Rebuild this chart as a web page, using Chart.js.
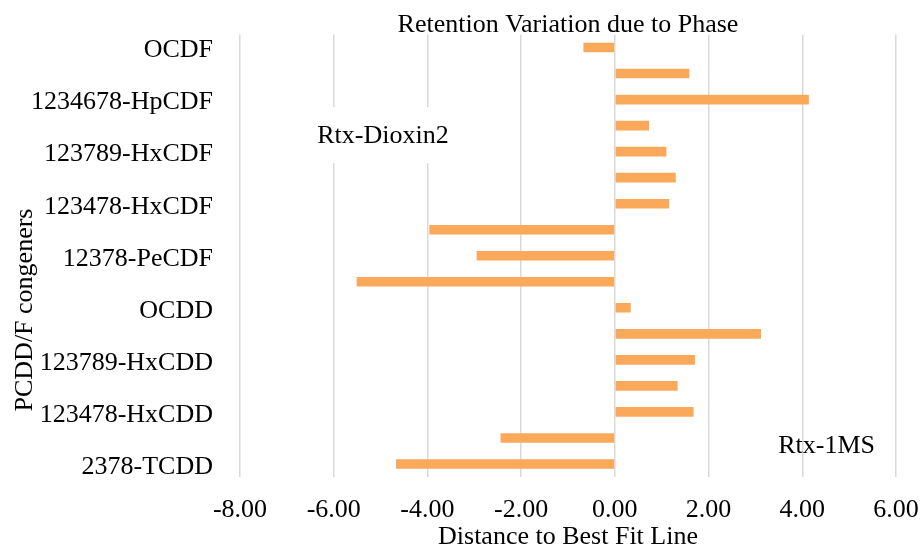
<!DOCTYPE html>
<html>
<head>
<meta charset="utf-8">
<script src="https://cdn.jsdelivr.net/npm/chart.js@4.4.0/dist/chart.umd.min.js"></script>
<style>
  html, body { margin: 0; padding: 0; background: #fff; }
  #wrap { width: 922px; height: 549px; }
</style>
</head>
<body>
<div id="wrap"><canvas id="chart1"></canvas></div>
<script>
// congeners, top to bottom
const congeners = [
    "OCDF", "1234789-HpCDF", "1234678-HpCDF", "234678-HxCDF", "123789-HxCDF",
    "123678-HxCDF", "123478-HxCDF", "23478-PeCDF", "12378-PeCDF", "2378-TCDF",
    "OCDD", "1234678-HpCDD", "123789-HxCDD", "123678-HxCDD", "123478-HxCDD",
    "12378-PeCDD", "2378-TCDD"
];
const distance = [
    -0.67, 1.59, 4.14, 0.73, 1.10,
    1.30, 1.16, -3.96, -2.95, -5.51,
    0.34, 3.12, 1.71, 1.34, 1.68,
    -2.44, -4.67
];
const xTicks = { min: -8, max: 6, step: 2 };

const serif = "'Liberation Serif', 'Times New Roman', serif";
const barColor = '#FAA85A';

const notes = {
    id: 'notes',
    beforeDatasetsDraw: (chart) => {
        const { ctx, scales: { x, y } } = chart;
        // text box for Rtx-Dioxin2 hides the grid behind it
        const cx = x.getPixelForValue(-4.95);
        const cy = y.getPixelForValue(3.33);
        ctx.save();
        ctx.fillStyle = '#fff';
        ctx.fillRect(cx - 80, cy - 27, 160, 56);
        ctx.restore();
    },
    afterDatasetsDraw: (chart) => {
        const { ctx, scales: { x, y } } = chart;
        ctx.save();
        ctx.fillStyle = '#000';
        ctx.font = "26px " + serif;
        ctx.textAlign = 'center';
        ctx.textBaseline = 'alphabetic';
        ctx.fillText('Rtx-Dioxin2', x.getPixelForValue(-4.95), y.getPixelForValue(3.33) + 9);
        ctx.fillText('Rtx-1MS', x.getPixelForValue(4.52), y.getPixelForValue(15.25) + 9);

        // y axis title
        ctx.translate(32, 310);
        ctx.rotate(-Math.PI / 2);
        ctx.fillText('PCDD/F congeners', 0, 0);
        ctx.restore();
    }
};

new Chart(document.getElementById('chart1').getContext('2d'), {
    type: 'bar',
    data: {
        labels: congeners,
        datasets: [{
            data: distance,
            backgroundColor: barColor,
            borderWidth: 0,
            barPercentage: 0.37,
            categoryPercentage: 1.0
        }]
    },
    options: {
        indexAxis: 'y',
        responsive: true,
        maintainAspectRatio: false,
        animation: false,
        layout: { padding: { left: 31, right: 0, top: 0, bottom: 0 } },
        plugins: {
            legend: { display: false },
            tooltip: { enabled: false },
            title: {
                display: true,
                fullSize: false,
                text: 'Retention Variation due to Phase',
                color: '#000',
                font: { family: serif, size: 26, weight: 'normal', lineHeight: 0.75 },
                padding: { top: 15, bottom: 0 }
            }
        },
        scales: {
            x: {
                min: xTicks.min,
                max: xTicks.max,
                grid: { color: '#d9d9d9', lineWidth: 1.5, drawTicks: false },
                border: { display: false },
                afterFit: (s) => { s.height = 72; s.paddingRight = 26; },
                ticks: {
                    stepSize: xTicks.step,
                    color: '#000',
                    padding: 18,
                    font: { family: serif, size: 26 },
                    callback: (v) => Number(v).toFixed(2)
                },
                title: {
                    display: true,
                    text: 'Distance to Best Fit Line',
                    color: '#000',
                    font: { family: serif, size: 26, lineHeight: 0.9 },
                    padding: 0
                }
            },
            y: {
                grid: { display: false, drawTicks: false },
                border: { display: false },
                afterFit: (s) => { s.width = 209; s.paddingTop = 0; s.paddingBottom = 0; },
                ticks: {
                    color: '#000',
                    padding: 27,
                    labelOffset: 3,
                    autoSkip: false,
                    font: { family: serif, size: 26 },
                    callback: function (v, i) {
                        return i % 2 === 0 ? this.getLabelForValue(v) : '';
                    }
                }
            }
        }
    },
    plugins: [notes]
});
</script>
</body>
</html>
